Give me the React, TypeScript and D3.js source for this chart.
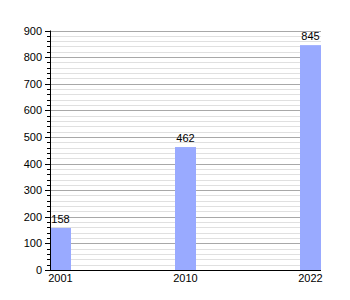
import React from "react";
import * as d3 from "d3";

const years = ["2001", "2010", "2022"];
const values = [158, 462, 845];
const yMax = 900;
const majorTicks = [0, 100, 200, 300, 400, 500, 600, 700, 800, 900];

export default function App() {
  const left = 50, right = 321, top = 30.5, bottom = 270;
  const barW = 21;
  const x = d3.scalePoint<string>().domain(years).range([left + barW / 2, right - barW / 2]);
  const y = d3.scaleLinear().domain([0, yMax]).range([bottom, top]);
  const minor = d3.range(0, yMax + 1, 20).filter((v) => v % 100 !== 0);
  const font = "'Liberation Sans', Arial, sans-serif";
  return (
    <svg width={350} height={300} style={{ position: "absolute", left: 0, top: 0 }}>
      <rect width={350} height={300} fill="#fff" />
      {minor.map((v) => (
        <g key={"m" + v}>
          <line x1={left} x2={right} y1={Math.round(y(v)) + 0.5} y2={Math.round(y(v)) + 0.5} stroke="#e0e0e0" />
          <line x1={left - 3} x2={left} y1={Math.round(y(v)) + 0.5} y2={Math.round(y(v)) + 0.5} stroke="#000" />
        </g>
      ))}
      {majorTicks.map((v) => (
        <g key={"M" + v}>
          {v > 0 && (
            <line x1={left} x2={right} y1={Math.round(y(v)) + 0.5} y2={Math.round(y(v)) + 0.5} stroke="#a8a8a8" />
          )}
          <line x1={left - 5} x2={left} y1={Math.round(y(v)) + 0.5} y2={Math.round(y(v)) + 0.5} stroke="#000" />
          <text x={42} y={y(v) + 4} textAnchor="end" fontSize={11} fontFamily={font} fill="#000">
            {v}
          </text>
        </g>
      ))}
      {years.map((yr, i) => (
        <g key={yr}>
          <rect x={(x(yr) as number) - barW / 2} y={y(values[i])} width={barW} height={bottom - y(values[i])} fill="#99aaff" />
          <text x={x(yr) as number} y={y(values[i]) - 5} textAnchor="middle" fontSize={11} fontFamily={font} fill="#000">
            {values[i]}
          </text>
          <text x={x(yr) as number} y={282} textAnchor="middle" fontSize={11} fontFamily={font} fill="#000">
            {yr}
          </text>
        </g>
      ))}
      <line x1={left + 0.5} x2={left + 0.5} y1={top} y2={bottom} stroke="#000" />
      <line x1={left} x2={right} y1={bottom + 0.5} y2={bottom + 0.5} stroke="#000" />
    </svg>
  );
}
